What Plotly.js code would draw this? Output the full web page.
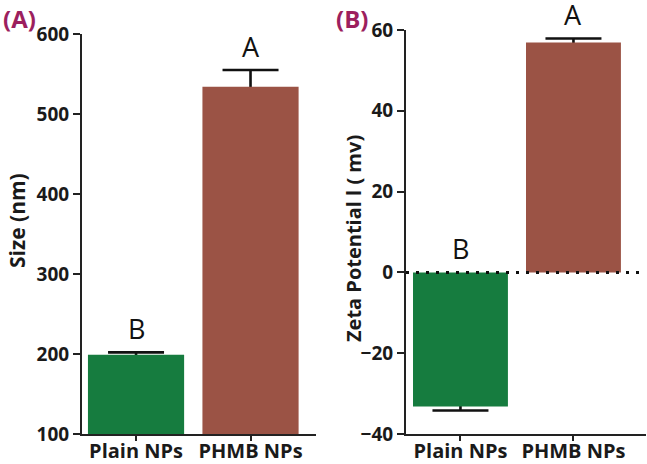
<!DOCTYPE html>
<html>
<head>
<meta charset="utf-8">
<script src="https://cdn.plot.ly/plotly-3.0.1.min.js"></script>
<style>html,body{margin:0;padding:0;background:#fff;}#chart{width:647px;height:464px;}</style>
</head>
<body>
<div id="chart"></div>
<script>
// ---- data ----
const categories = ["Plain NPs", "PHMB NPs"];
const sizeValues = [199, 534];
const sizeErrors = [3, 21];
const sizeLetters = ["B", "A"];
const zetaValues = [-33.2, 56.9];
const zetaErrors = [1.0, 1.0];
const zetaLetters = ["B", "A"];
const barColors = ["#167c3f", "#9b5345"];
const panelLabels = ["(A)", "(B)"];
const yTitles = ["Size (nm)", "Zeta Potential l ( mv)"];

const FONT = "'Open Sans', Lato, sans-serif";

function errTrace(vals, errs, xa, ya) {
  return {
    type: "bar", x: categories, y: vals, xaxis: xa, yaxis: ya,
    width: 0.84, marker: {color: "rgba(0,0,0,0)"},
    error_y: {type: "data", array: errs, symmetric: true, color: "#111", thickness: 2.6, width: 28},
    hoverinfo: "skip", showlegend: false
  };
}
function barTrace(vals, xa, ya) {
  return {
    type: "bar", x: categories, y: vals, xaxis: xa, yaxis: ya,
    width: 0.84, marker: {color: barColors, line: {width: 0}},
    showlegend: false
  };
}

const data = [
  errTrace(sizeValues, sizeErrors, "x", "y"),
  barTrace(sizeValues, "x", "y"),
  errTrace(zetaValues, zetaErrors, "x2", "y2"),
  barTrace(zetaValues, "x2", "y2")
];

const H = 464, W = 647;
const axisCommon = {
  showline: true, linecolor: "#222", linewidth: 2,
  ticks: "outside", ticklen: 7, tickwidth: 2, tickcolor: "#222",
  showgrid: false, zeroline: false, fixedrange: true,
  tickfont: {family: FONT, size: 19, color: "#1a1a1a", weight: "bold"}
};
const xTickFont = {family: FONT, size: 20, color: "#1a1a1a", weight: "bold"};

const annotations = [];
// significance letters
sizeLetters.forEach((t, i) => annotations.push({
  text: t, x: categories[i], y: sizeValues[i] + sizeErrors[i], xref: "x", yref: "y",
  yanchor: "bottom", yshift: 3, showarrow: false,
  font: {family: FONT, size: 27, color: "#111"}
}));
zetaLetters.forEach((t, i) => annotations.push({
  text: t, x: categories[i], y: Math.max(zetaValues[i], 0) + (zetaValues[i] > 0 ? zetaErrors[i] : 0),
  xref: "x2", yref: "y2",
  yanchor: "bottom", yshift: 3, showarrow: false,
  font: {family: FONT, size: 27, color: "#111"}
}));
// panel labels
annotations.push({text: panelLabels[0], x: 1 / W, y: 1 - 18 / H, xref: "paper", yref: "paper",
  xanchor: "left", yanchor: "middle", showarrow: false,
  font: {family: FONT, size: 24, color: "#9c1f5e", weight: "bold"}});
annotations.push({text: panelLabels[1], x: 334 / W, y: 1 - 18 / H, xref: "paper", yref: "paper",
  xanchor: "left", yanchor: "middle", showarrow: false,
  font: {family: FONT, size: 24, color: "#9c1f5e", weight: "bold"}});
// y titles
annotations.push({text: yTitles[0], x: 17 / W, y: 1 - 221 / H, xref: "paper", yref: "paper",
  xanchor: "center", yanchor: "middle", textangle: -90, showarrow: false,
  font: {family: FONT, size: 21, color: "#1a1a1a", weight: "bold"}});
annotations.push({text: yTitles[1], x: 353 / W, y: 1 - 239 / H, xref: "paper", yref: "paper",
  xanchor: "center", yanchor: "middle", textangle: -90, showarrow: false,
  font: {family: FONT, size: 20, color: "#1a1a1a", weight: "bold"}});

const layout = {
  width: W, height: H,
  margin: {l: 0, r: 0, t: 0, b: 0},
  paper_bgcolor: "#fff", plot_bgcolor: "rgba(0,0,0,0)",
  barmode: "overlay", showlegend: false,
  xaxis: Object.assign({}, axisCommon, {
    domain: [82 / W, 316 / W], range: [-0.472, 1.572], anchor: "y",
    ticklen: 5, ticklabelstandoff: -7, tickfont: xTickFont
  }),
  yaxis: Object.assign({}, axisCommon, {
    domain: [(H - 434) / H, (H - 34) / H], range: [100, 600], anchor: "x",
    tickvals: [100, 200, 300, 400, 500, 600]
  }),
  xaxis2: Object.assign({}, axisCommon, {
    domain: [406 / W, 646 / W], range: [-0.482, 1.642], anchor: "y2",
    ticklen: 5, ticklabelstandoff: -7, tickfont: xTickFont
  }),
  yaxis2: Object.assign({}, axisCommon, {
    domain: [(H - 434) / H, (H - 30) / H], range: [-40, 60], anchor: "x2",
    tickvals: [-40, -20, 0, 20, 40, 60]
  }),
  shapes: [{
    type: "line", xref: "x2 domain", yref: "y2", x0: 0, x1: 1, y0: 0, y1: 0,
    line: {color: "#111", width: 3, dash: "3px,7px"}, layer: "above"
  }],
  annotations: annotations
};

Plotly.newPlot("chart", data, layout, {displayModeBar: false, staticPlot: true});
</script>
</body>
</html>
